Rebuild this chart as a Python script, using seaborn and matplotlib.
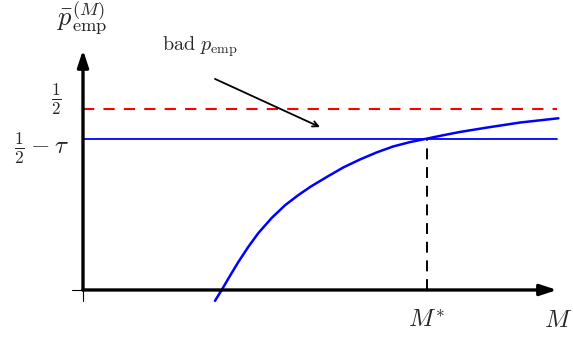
import numpy as np
import pandas as pd
import matplotlib
matplotlib.use("Agg")
import matplotlib.pyplot as plt
import seaborn as sns

# -----------------------
# DATA
# -----------------------
m_values = [2.785, 2.926, 3.101, 3.276, 3.487, 3.698, 3.981, 4.262, 4.542,
            4.810, 5.141, 5.492, 5.844, 6.196, 6.546, 6.899, 7.251, 7.601,
            7.954, 8.517, 9.219, 10.03]
p_values = [-0.030, 0.000, 0.039, 0.077, 0.119, 0.157, 0.199, 0.234, 0.262,
            0.286, 0.312, 0.3385, 0.3605, 0.380, 0.3965, 0.4085, 0.418, 0.4275,
            0.4365, 0.4485, 0.4625, 0.4743]
half = 0.5
tau = 0.082
m_star = 7.25
m_max = 10.0

df = pd.DataFrame({"M": m_values, "p": p_values})

# -----------------------
# STYLE
# -----------------------
sns.set_style("white")
plt.rcParams["mathtext.fontset"] = "cm"
plt.rcParams["font.family"] = ["DejaVu Serif"]

fig = plt.figure(figsize=(5.73, 3.39), dpi=100)
ax = fig.add_axes([0, 0, 1, 1])
ax.set_axis_off()
ax.set_xlim(-1.751, 10.338)
ax.set_ylim(-0.1354, 0.801)

# reference lines
red, = ax.plot([0, m_max], [half, half], color="red", lw=1.5)
red.set_dashes((5.4, 4.4))
ax.plot([0, m_max], [half - tau, half - tau], color="blue", lw=1.3)
vline, = ax.plot([m_star, m_star], [0, half - tau], color="black", lw=1.4)
vline.set_dashes((5.6, 4.0))

# curve
sns.lineplot(data=df, x="M", y="p", color="blue", lw=1.8, ax=ax, sort=False)
ax.lines[-1].set_solid_joinstyle("round")

# axes with arrows
axis_arrow = dict(arrowstyle="-|>,head_length=1.0,head_width=0.33",
                  lw=2.4, color="black", shrinkA=0, shrinkB=0)
ax.annotate("", xy=(m_max, 0), xytext=(0, 0), arrowprops=axis_arrow)
ax.annotate("", xy=(0, 0.663), xytext=(0, 0), arrowprops=axis_arrow)
ax.plot([-0.232, 0], [0, 0], color="black", lw=0.8)
ax.plot([0, 0], [0, -0.030], color="black", lw=0.8)

# labels
ax.text(-0.02, 0.751, r"$\bar{p}_{\mathrm{emp}}^{(M)}$", fontsize=19,
        ha="center", va="center")
ax.text(-0.57, 0.528, r"$\frac{1}{2}$", fontsize=17.5, ha="center", va="center")
ax.text(-0.886, 0.392, r"$\frac{1}{2}-\tau$", fontsize=18, ha="center", va="center")
ax.text(m_star, -0.083, r"$M^{*}$", fontsize=18, ha="center", va="center")
ax.text(10.02, -0.083, r"$M$", fontsize=18, ha="center", va="center")

ax.text(2.47, 0.671, r"$\mathrm{bad}\ p_{\mathrm{emp}}$", fontsize=14.5,
        ha="center", va="center")
ax.annotate("", xy=(5.0, 0.450), xytext=(2.785, 0.583),
            arrowprops=dict(arrowstyle="->", lw=1.3, color="black",
                            shrinkA=0, shrinkB=0))

fig.savefig("out.png", dpi=100)
